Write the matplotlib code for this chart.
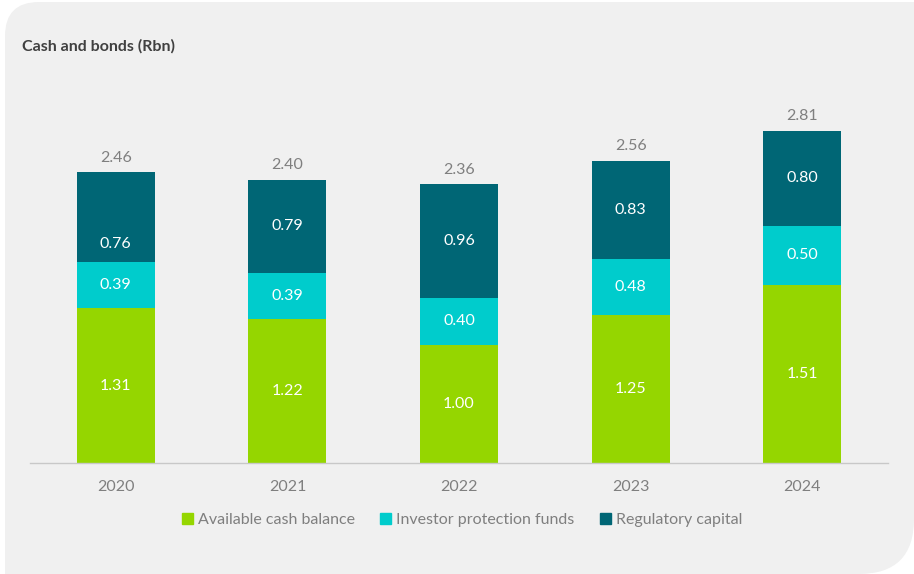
import matplotlib
matplotlib.use("Agg")
import matplotlib.pyplot as plt
from matplotlib.path import Path
from matplotlib.patches import PathPatch
import numpy as np

years = ["2020", "2021", "2022", "2023", "2024"]
cash = [1.31, 1.22, 1.00, 1.25, 1.51]
investor = [0.39, 0.39, 0.40, 0.48, 0.50]
regulatory = [0.76, 0.79, 0.96, 0.83, 0.80]
totals = [2.46, 2.40, 2.36, 2.56, 2.81]
series_names = ["Available cash balance", "Investor protection funds", "Regulatory capital"]
colors = ["#95d600", "#00cccc", "#006675"]

plt.rcParams['font.family'] = ['Lato', 'DejaVu Sans']

W, H = 914, 574
fig = plt.figure(figsize=(W / 100, H / 100), dpi=100, facecolor="white")

def P(x, y):
    return (x / W, 1 - y / H)

x0, y0, x1, y1 = 5, 2, 914, 574
r1, r2 = 34, 55
verts = [P(x0 + r1, y0), P(x1, y0), P(x1, y1 - r2), P(x1, y1), P(x1 - r2, y1),
         P(x0, y1), P(x0, y0 + r1), P(x0, y0), P(x0 + r1, y0), P(x0 + r1, y0)]
codes = [Path.MOVETO, Path.LINETO, Path.LINETO, Path.CURVE3, Path.CURVE3,
         Path.LINETO, Path.LINETO, Path.CURVE3, Path.CURVE3, Path.CLOSEPOLY]
fig.patches.append(PathPatch(Path(verts, codes), transform=fig.transFigure,
                             facecolor="#f0f0f0", edgecolor="none", zorder=-10))

ax = fig.add_axes([30 / W, 1 - 463 / H, 858 / W, (463 - 80) / H])
ax.set_facecolor("none")
ax.set_zorder(1)
x = np.arange(len(years))
width = 0.455
# label position within a segment (fraction from its bottom); the reference
# places the 2020 regulatory capital label low in its segment
label_frac = {(2, 0): 0.2}
bottom = np.zeros(len(years))
for si, (vals, col) in enumerate(zip([cash, investor, regulatory], colors)):
    vals = np.array(vals)
    ax.bar(x, vals, width, bottom=bottom, color=col, edgecolor="none", zorder=2)
    for xi, b, v in zip(x, bottom, vals):
        f = label_frac.get((si, xi), 0.5)
        ax.text(xi, b + v * f, f"{v:.2f}", ha="center", va="center",
                color="white", fontsize=11.5, zorder=3)
    bottom = bottom + vals

for xi, t in zip(x, totals):
    ax.text(xi, t + 0.065, f"{t:.2f}", ha="center", va="bottom", color="#7f7f7f", fontsize=11.5)

ax.set_xlim(-0.5, 4.5)
ax.set_ylim(0, (463 - 80) / 118.1)
for s in ["top", "right", "left"]:
    ax.spines[s].set_visible(False)
ax.spines["bottom"].set_color("#c8c8c8")
ax.spines["bottom"].set_linewidth(1.0)
ax.set_yticks([])
ax.set_xticks(x)
ax.set_xticklabels(years, color="#7f7f7f", fontsize=11.5)
ax.tick_params(axis="x", length=0, pad=12)

fig.text(22 / W, 1 - 46 / H, "Cash and bonds (Rbn)", fontsize=11.5, fontweight="bold",
         color="#404040", va="center", ha="left")

handles = [plt.Rectangle((0, 0), 1, 1, color=c) for c in colors]
fig.legend(handles, series_names, loc="center", bbox_to_anchor=(462 / W, 1 - 520 / H),
           ncol=3, frameon=False, fontsize=11.5, labelcolor="#7f7f7f",
           handlelength=0.7, handleheight=0.7, handletextpad=0.3, columnspacing=1.6)

fig.savefig("out.png", dpi=100, facecolor="white")
